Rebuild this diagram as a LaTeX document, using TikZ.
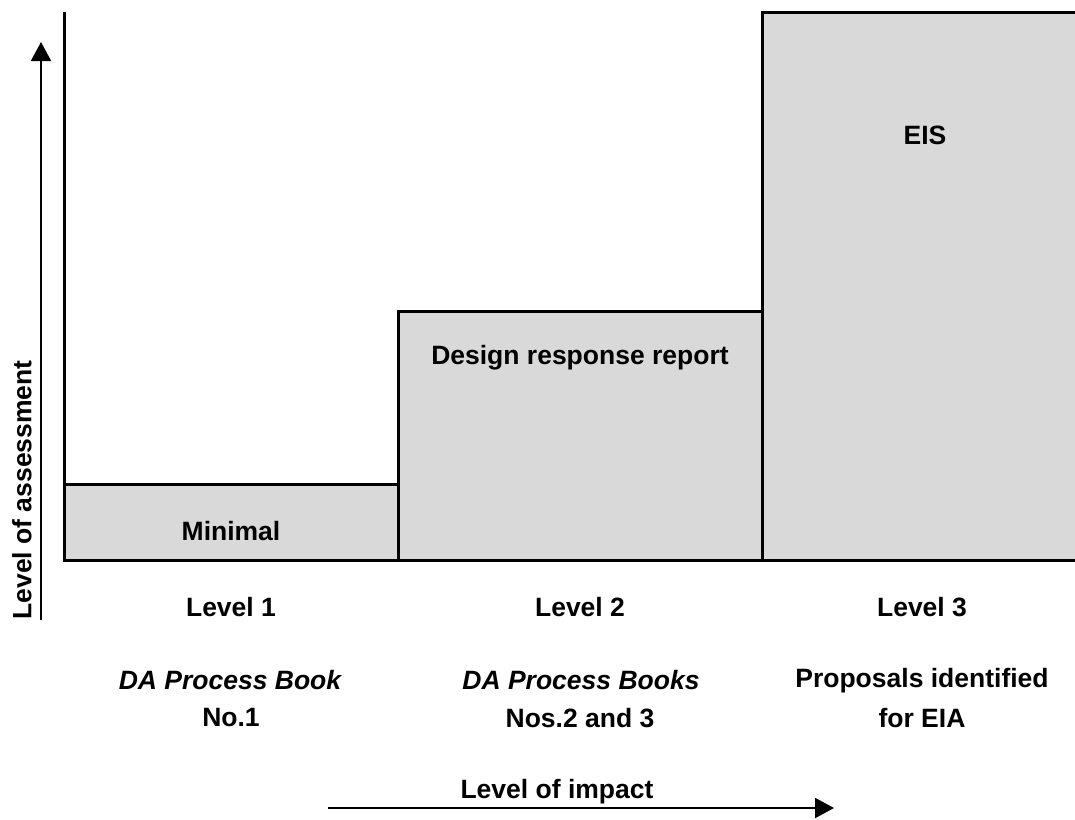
\documentclass[tikz,border=0pt]{standalone}
\usepackage{fontspec}
\setmainfont{Liberation Sans}
\usetikzlibrary{arrows.meta}
\definecolor{barfill}{HTML}{D9D9D9}
\begin{document}
\begin{tikzpicture}[x=1pt,y=-1pt,
  lbl/.style={font=\fontsize{26.5}{31}\selectfont\bfseries, inner sep=0pt, align=center},
  ilbl/.style={font=\fontsize{26.5}{31}\selectfont\bfseries\itshape, inner sep=0pt, align=center},
  bar/.style={fill=barfill, draw=black, line width=3pt},
  axisarrow/.style={line width=2pt, -{Triangle[width=20pt,length=19pt]}}]
\useasboundingbox (0,0) rectangle (1075,819);
\clip (0,0) rectangle (1075,819);
% bars, one per level
\draw[bar] (64,484) rectangle (398,560);
\draw[bar] (398,311) rectangle (762,560);
\draw[bar] (762,12) rectangle (1090,560);
% vertical axis
\draw[line width=3pt] (64,12) -- (64,561.5);
% axis arrows
\coordinate (ya) at (41,620);
\coordinate (yb) at (41,42);
\draw[axisarrow] (ya) -- (yb);
\coordinate (xa) at (328,808);
\coordinate (xb) at (834,808);
\draw[axisarrow] (xa) -- (xb);
% bar labels
\node[lbl] (minimal) at (231,531) {Minimal};
\node[lbl] (design) at (580,358) {Design response report};
\node[lbl] (eis) at (925,135) {EIS};
% level labels
\node[lbl] (l1) at (231,607) {Level 1};
\node[lbl] (l2) at (580,607) {Level 2};
\node[lbl] (l3) at (922,607) {Level 3};
% descriptions
\node[ilbl] (d1a) at (230,680) {DA Process Book};
\node[lbl] (d1b) at (231,718) {No.1};
\node[ilbl] (d2a) at (581,680) {DA Process Books};
\node[lbl] (d2b) at (580,718) {Nos.2 and 3};
\node[lbl] (d3a) at (922,681) {Proposals identified};
\node[lbl] (d3b) at (922,718) {for EIA};
% axis titles
\node[lbl] (ximp) at (557,792) {Level of impact};
\node[lbl, rotate=90] (yass) at (22,490) {Level of assessment};
\end{tikzpicture}
\end{document}
